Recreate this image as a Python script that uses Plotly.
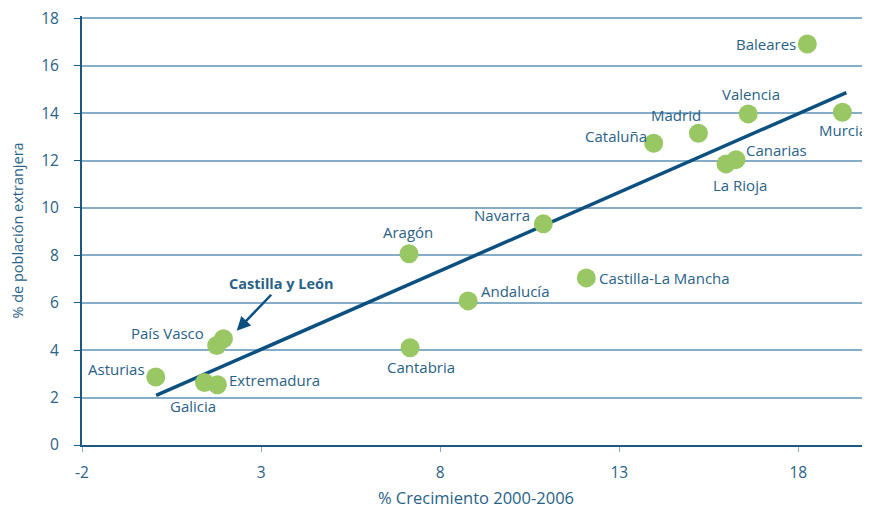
import plotly.graph_objects as go

regions = ["Baleares", "Valencia", "Murcia", "Madrid", "Cataluña", "Canarias",
           "La Rioja", "Navarra", "Aragón", "Castilla-La Mancha", "Andalucía",
           "Cantabria", "País Vasco", "Castilla y León", "Asturias", "Galicia",
           "Extremadura"]
growth = [18.25, 16.6, 19.23, 15.21, 13.96, 16.26, 15.98, 10.88, 7.13, 12.08,
          8.78, 7.16, 1.76, 1.95, 0.06, 1.42, 1.78]
foreign_pct = [16.92, 13.97, 14.04, 13.15, 12.73, 12.04, 11.86, 9.33, 8.07, 7.05,
               6.08, 4.10, 4.20, 4.48, 2.87, 2.64, 2.54]

trend_x = [0.07, 19.34]
trend_y = [2.09, 14.87]

x_ticks = [-2, 3, 8, 13, 18]
x_tick_labels = ["-2", "3", "8", "13", "18"]
y_ticks = [0, 2, 4, 6, 8, 10, 12, 14, 16, 18]

# label offsets in pixels (style, not data)
label_offsets = {
    "Baleares": (-41, 0), "Valencia": (3, 20), "Murcia": (1, -18),
    "Madrid": (-22, 18), "Cataluña": (-38, 7), "Canarias": (40, 10),
    "La Rioja": (14, -21), "Navarra": (-41, 9), "Aragón": (-1, 22),
    "Castilla-La Mancha": (78, 0), "Andalucía": (47, 10), "Cantabria": (11, -19),
    "País Vasco": (-49, 12), "Asturias": (-39, 8), "Galicia": (-12, -24),
    "Extremadura": (57, 5),
}

TEXT = "#2a6286"
AXIS = "#1a5a85"
GRID = "#85adc9"
GREEN = "#98c764"
LINE = "#0c5080"
FONT = "Open Sans"

fig = go.Figure()
fig.add_trace(go.Scatter(x=trend_x, y=trend_y, mode="lines",
                         line=dict(color=LINE, width=3.5), hoverinfo="skip",
                         showlegend=False))
fig.add_trace(go.Scatter(x=growth, y=foreign_pct, mode="markers",
                         marker=dict(color=GREEN, size=19, line=dict(width=0)),
                         text=regions, showlegend=False, cliponaxis=False))

annotations = []
for name, gx, gy in zip(regions, growth, foreign_pct):
    if name in label_offsets:
        dx, dy = label_offsets[name]
        annotations.append(dict(x=gx, y=gy, xref="x", yref="y", text=name,
                                showarrow=False, xanchor="center", yanchor="middle",
                                xshift=dx, yshift=dy,
                                font=dict(family=FONT, size=15, color=TEXT)))
# Castilla y León: bold label with arrow
cyl = regions.index("Castilla y León")
annotations.append(dict(x=growth[cyl] + 0.37, y=foreign_pct[cyl] + 0.34,
                        xref="x", yref="y", text="<b>Castilla y León</b>",
                        showarrow=True, arrowhead=2, arrowsize=1.1, arrowwidth=2.5,
                        arrowcolor=LINE, ax=45, ay=-47,
                        font=dict(family=FONT, size=14.5, color=TEXT)))

fig.update_layout(
    width=862, height=501,
    margin=dict(l=74, r=0, t=8, b=64),
    paper_bgcolor="white", plot_bgcolor="white",
    font=dict(family=FONT, color=TEXT, size=14),
    annotations=annotations,
    xaxis=dict(range=[-2, 20], tickvals=x_ticks, ticktext=x_tick_labels,
               showgrid=False, automargin=False,
               showline=True, linecolor=AXIS, linewidth=2,
               ticks="outside", ticklen=5, tickcolor=GRID, zeroline=False,
               ticklabelstandoff=7,
               tickfont=dict(size=15.5, color=TEXT),
               title=dict(text="% Crecimiento 2000-2006",
                          font=dict(size=16.5, color=TEXT), standoff=12)),
    yaxis=dict(range=[0, 18.1], tickvals=y_ticks, showgrid=True, gridcolor=GRID,
               gridwidth=1.5, showline=True, linecolor=AXIS, linewidth=2,
               automargin=False, ticklabeloverflow="allow",
               ticks="outside", ticklen=6, tickcolor=AXIS, zeroline=False,
               ticklabelstandoff=12,
               tickfont=dict(size=15.5, color=TEXT),
               title=dict(text="% de población extranjera",
                          font=dict(size=14.5, color=TEXT), standoff=22)),
)

fig.write_html("out.html")
